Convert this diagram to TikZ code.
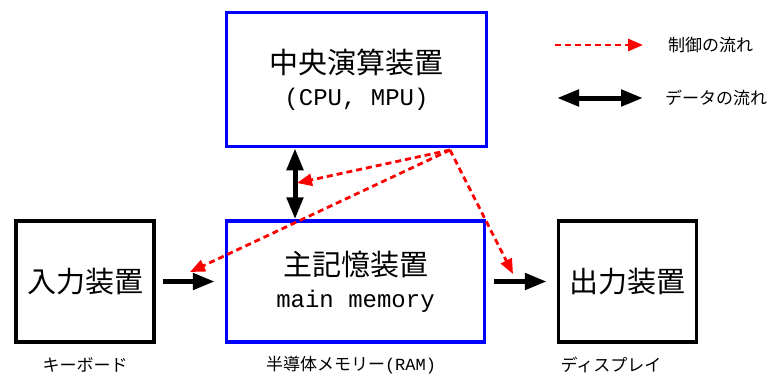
\documentclass[tikz,border=0pt]{standalone}
\usepackage{fontspec}
\newfontfamily\jpfont{Noto Sans CJK JP}
\newfontfamily\latinmono{Liberation Mono}
\usetikzlibrary{arrows.meta}
\newcommand\boxjp{\jpfont\fontsize{29}{32}\selectfont}
\newcommand\boxmono{\latinmono\fontsize{24}{32}\selectfont}
\newcommand\smalljp{\jpfont\fontsize{17}{20}\selectfont}
\newcommand\smallmono{\latinmono\fontsize{17}{20}\selectfont}
\begin{document}
\begin{tikzpicture}[x=1pt,y=-1pt,
		unitbox/.style={draw=blue,line width=3.5pt,align=center,inner sep=0pt,font=\boxjp},
		devbox/.style={draw=black,line width=3.5pt,align=center,inner sep=0pt,font=\boxjp,
			minimum width=138pt,minimum height=121pt},
		dataflow/.style={line width=5pt,-{Triangle[length=22pt,width=16pt]}},
		dataflows/.style={line width=5pt,{Triangle[length=22pt,width=16pt]}-{Triangle[length=22pt,width=16pt]}},
		ctlflow/.style={red,line width=2.8pt,dash pattern=on 6pt off 4pt,-{Triangle[length=15pt,width=12pt]}},
		note/.style={font=\smalljp,inner sep=0pt}]
	\useasboundingbox (0,0) rectangle (767,375);
	% units of the computer
	\node[unitbox,minimum width=260pt,minimum height=134pt] (cpu) at (356.5,79.5)
	{中央演算装置\\{\boxmono (CPU, MPU)}};
	\node[unitbox,minimum width=258pt,minimum height=121pt] (mem) at (355.5,281.5)
	{主記憶装置\\{\boxmono main memory}};
	\node[devbox] (inp) at (85,281.5) {入力装置};
	\node[devbox] (outp) at (627.5,281.5) {出力装置};
	% names of the devices
	\node[note] (inpname) at (85,365) {キーボード};
	\node[note] (memname) at (351,365) {半導体メモリー{\smallmono (RAM)}};
	\node[note] (outpname) at (611,365) {ディスプレイ};
	% data flow
	\coordinate (bus) at (295,0);
	\draw[dataflows] (cpu.south -| bus) -- (mem.north -| bus);
	\draw[dataflow,shorten <=7pt,shorten >=10pt] (inp) -- (mem);
	\draw[dataflow,shorten <=8pt,shorten >=10pt] (mem) -- (outp);
	% control flow
	\coordinate (ctl) at (450,150);
	\coordinate (ctlmem) at (297,183);
	\coordinate (ctlinp) at (190,272);
	\coordinate (ctloutp) at (513,274);
	\foreach \t in {ctlmem,ctlinp,ctloutp}
	\draw[ctlflow] (ctl) -- (\t);
	% legend
	\coordinate (lgc1) at (555,45);
	\coordinate (lgc2) at (643,45);
	\coordinate (lgd1) at (557,98);
	\coordinate (lgd2) at (643,98);
	\draw[ctlflow] (lgc1) -- (lgc2);
	\draw[dataflows] (lgd1) -- (lgd2);
	\node[note,anchor=west] (lgctl) at (668,45) {制御の流れ};
	\node[note,anchor=west] (lgdat) at (665,98) {データの流れ};
\end{tikzpicture}
\end{document}
